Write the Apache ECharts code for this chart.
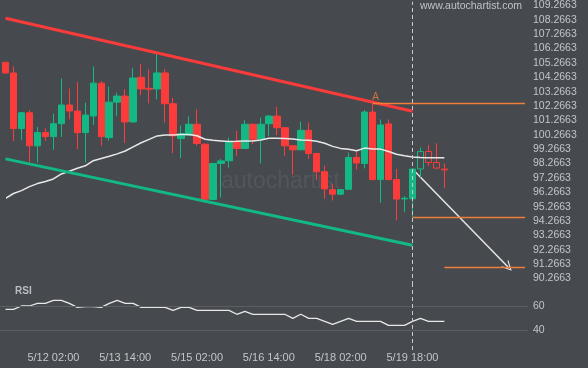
<!DOCTYPE html>
<html><head><meta charset="utf-8">
<script src="https://cdn.jsdelivr.net/npm/echarts@6/dist/echarts.min.js"></script>
<style>html,body{margin:0;padding:0;background:#46494e}#c{width:588px;height:368px}</style>
</head><body><div id="c"></div>
<script>
// ---- data ----
const opens  = [105.31,104.57,100.70,101.80,99.50,100.42,100.14,101.04,102.34,101.92,100.42,101.57,103.86,100.07,102.54,102.96,101.16,104.27,103.50,103.46,104.57,102.43,100.00,100.24,101.00,99.61,95.76,98.27,98.46,99.73,99.31,101.00,99.96,101.04,101.57,100.76,99.50,99.22,100.58,98.97,97.70,96.45,96.13,96.47,98.69,98.27,101.85,97.15,101.02,97.15,95.80,95.81,97.89,99.10,98.34,97.88];
const closes = [104.57,100.70,101.80,99.50,100.42,100.14,101.04,102.34,101.92,100.42,101.64,103.86,100.14,102.54,102.96,101.16,104.22,103.46,103.44,104.57,102.43,100.19,100.35,101.00,99.66,95.78,98.27,98.45,99.73,99.31,101.00,99.96,101.00,101.57,100.76,99.50,99.22,100.58,98.97,97.70,96.50,96.13,96.45,98.69,98.30,101.85,97.15,100.95,97.15,95.79,95.85,97.88,99.10,98.34,97.95,97.82];
const lows   = [104.50,99.84,99.89,98.34,98.34,99.84,99.22,100.12,101.34,99.27,98.34,100.95,99.50,99.87,101.57,99.70,101.11,103.02,102.45,102.73,101.11,98.99,98.65,100.20,99.50,95.62,95.72,95.90,97.99,98.81,99.31,99.62,98.27,100.19,100.24,98.81,97.49,99.20,98.58,97.12,95.81,95.69,96.10,96.45,97.84,97.93,97.10,95.53,97.10,94.30,94.88,94.52,97.30,98.11,97.90,96.57];
const highs  = [105.35,105.03,101.85,101.97,100.81,100.72,101.73,104.18,103.49,103.95,102.50,105.03,104.00,103.62,103.19,103.44,104.92,105.20,104.81,105.95,104.85,102.84,100.90,101.55,102.04,99.66,98.30,98.58,100.07,100.54,101.28,101.05,101.46,101.64,102.20,100.80,99.55,101.18,101.11,99.00,98.11,96.85,96.50,99.03,99.15,101.99,102.45,101.34,101.34,97.89,96.00,97.90,99.38,99.57,99.68,98.27];
const maValues = [95.83,96.18,96.38,96.66,96.87,97.01,97.19,97.54,97.73,97.94,98.11,98.46,98.62,98.77,98.94,99.14,99.43,99.71,99.95,100.19,100.25,100.26,100.29,100.29,100.20,99.96,99.88,99.84,99.80,99.81,99.84,99.84,99.91,100.03,100.02,100.01,99.97,99.91,99.88,99.81,99.68,99.46,99.32,99.26,99.15,99.34,99.27,99.27,99.10,98.91,98.81,98.72,98.68,98.67,98.67,98.67];
const rsiValues = [57.2,57.2,60,60,62.2,62.2,64.7,64.7,62.2,58.9,59.4,59.4,58.9,62.2,64.7,62.2,62.2,58.9,58.9,58.9,58.9,56.4,58.9,58.9,56.4,56.4,56.4,56.4,56.4,53.1,55.6,53.1,53.1,53.1,53.1,53.1,49.7,53.1,49.7,49.7,47.2,44.7,47.2,49.7,47.2,47.2,47.2,47.2,43.9,43.9,43.9,47.2,49.7,47.2,47.2,47.2];
const rsiLevels = [40, 60];
const resistanceLine = [[0, 108.38], [51, 101.90]];
const supportLine = [[0, 98.59], [51, 92.58]];
const patternLevel = [[46, 102.45], [65.1, 102.45]];
const lowLevel = [[51, 94.515], [65.1, 94.515]];
const targetLevel = [[55, 91.03], [65.1, 91.03]];
const forecastArrow = [[51, 97.88], [63, 91.05]];
const pointLabel = 'A';
const currentIndex = 51;
const forecastStart = 52;
const priceTicks = [90.2663,91.2663,92.2663,93.2663,94.2663,95.2663,96.2663,97.2663,98.2663,99.2663,100.2663,101.2663,102.2663,103.2663,104.2663,105.2663,106.2663,107.2663,108.2663,109.2663];
const timeTickIdx = [6, 15, 24, 33, 42, 51];
const timeLabels = ['5/12 02:00','5/13 14:00','5/15 02:00','5/16 14:00','5/18 02:00','5/19 18:00'];

// ---- chart ----
const BG = '#46494e', UP = '#13b884', DOWN = '#fc3b3b', ORANGE = '#ee7f3a', TXT = '#c2c5c9';
const FONT = 'Liberation Sans, Arial, sans-serif';
const candleData = opens.map((o, i) => {
  const item = { value: [i, o, closes[i], lows[i], highs[i]] };
  if (i >= forecastStart) item.itemStyle = { color: BG, color0: BG };
  return item;
});
const pxStep = 7.98, firstCenter = 5.5, plotRight = 528;
const xMax = (plotRight - firstCenter) / pxStep;

const chart = echarts.init(document.getElementById('c'));
chart.setOption({
  animation: false,
  backgroundColor: BG,
  textStyle: { fontFamily: FONT },
  title: { text: 'RSI', left: 15, top: 286, padding: 0,
    textStyle: { fontSize: 10, fontWeight: 'bold', color: '#b9bcc0', fontFamily: FONT } },
  graphic: [
    { type: 'text', left: 420, top: 1, style: { text: 'www.autochartist.com', fill: '#c0c3c7', font: '10.5px ' + FONT } },
    { type: 'text', left: 221, top: 170, silent: true, style: { text: 'autochartist', fill: 'rgba(255,255,255,0.07)', font: '300 23px ' + FONT } }
  ],
  grid: [
    { left: 7, right: 588 - plotRight, top: 0, height: 285 },
    { left: 0, right: 588 - plotRight, top: 285, height: 65 }
  ],
  xAxis: [
    { type: 'value', gridIndex: 0, min: (7 - firstCenter) / pxStep, max: xMax, show: false },
    { type: 'value', gridIndex: 1, min: -firstCenter / pxStep, max: xMax,
      axisLine: { show: false }, axisTick: { show: false }, splitLine: { show: false },
      axisLabel: { customValues: timeTickIdx, margin: 2, fontSize: 11, color: TXT, fontFamily: FONT,
        formatter: v => { const j = timeTickIdx.indexOf(Math.round(v)); return j >= 0 ? timeLabels[j] : ''; } } }
  ],
  yAxis: [
    { type: 'value', gridIndex: 0, position: 'right', min: 89.81, max: 109.533, scale: true,
      axisLine: { show: false }, axisTick: { show: false }, splitLine: { show: false },
      axisLabel: { customValues: priceTicks, margin: 5, fontSize: 10.5, color: TXT, fontFamily: FONT,
        formatter: v => v.toFixed(4) } },
    { type: 'value', gridIndex: 1, position: 'right', min: 23.33, max: 77.5,
      axisLine: { show: false }, axisTick: { show: false }, splitLine: { show: false },
      axisLabel: { customValues: rsiLevels, margin: 5, fontSize: 10.5, color: TXT, fontFamily: FONT } }
  ],
  series: [
    { type: 'candlestick', xAxisIndex: 0, yAxisIndex: 0, data: candleData, encode: { x: 0, y: [1, 2, 3, 4] },
      barWidth: 7, clip: true,
      itemStyle: { color: UP, color0: DOWN, borderColor: UP, borderColor0: DOWN, borderWidth: 1 },
      markLine: { silent: true, symbol: 'none', label: { show: false },
        lineStyle: { color: '#c8c8c8', type: [4, 3], width: 1 }, data: [{ xAxis: currentIndex }] } },
    { type: 'line', xAxisIndex: 0, yAxisIndex: 0, data: maValues.map((v, i) => [i, v]), symbol: 'none',
      lineStyle: { color: '#e8e8e8', width: 1.5 }, clip: true },
    { type: 'line', xAxisIndex: 0, yAxisIndex: 0, data: resistanceLine, symbol: 'none',
      lineStyle: { color: '#f93b3b', width: 3 }, clip: true },
    { type: 'line', xAxisIndex: 0, yAxisIndex: 0, data: supportLine, symbol: 'none',
      lineStyle: { color: '#12b886', width: 3 }, clip: true },
    { type: 'line', xAxisIndex: 0, yAxisIndex: 0, data: patternLevel, symbol: 'none', lineStyle: { color: ORANGE, width: 1.5 } },
    { type: 'line', xAxisIndex: 0, yAxisIndex: 0, data: lowLevel, symbol: 'none', lineStyle: { color: ORANGE, width: 1.5 } },
    { type: 'line', xAxisIndex: 0, yAxisIndex: 0, data: targetLevel, symbol: 'none', lineStyle: { color: ORANGE, width: 1.5 } },
    { type: 'lines', coordinateSystem: 'cartesian2d', xAxisIndex: 0, yAxisIndex: 0,
      symbol: ['none', 'path://M5,0 L10,10 L8.8,10 L5,2.4 L1.2,10 L0,10 Z'], symbolSize: 10,
      lineStyle: { color: '#e6e6e6', width: 1.5, opacity: 1 },
      data: [{ coords: forecastArrow }] },
    { type: 'scatter', xAxisIndex: 0, yAxisIndex: 0, data: [patternLevel[0]], symbolSize: 1,
      itemStyle: { color: 'rgba(0,0,0,0)' },
      label: { show: true, formatter: pointLabel, position: 'top', distance: 1, offset: [3, 0],
        color: ORANGE, fontSize: 10, fontFamily: FONT } },
    { type: 'line', xAxisIndex: 1, yAxisIndex: 1, data: rsiValues.map((v, i) => [i, v]), symbol: 'none',
      lineStyle: { color: '#e8e8e8', width: 1.3 }, clip: true,
      markLine: { silent: true, symbol: 'none', label: { show: false },
        data: rsiLevels.map(l => ({ yAxis: l, lineStyle: { color: '#5b5e63', type: 'solid', width: 1 } }))
          .concat([{ xAxis: currentIndex, lineStyle: { color: '#c8c8c8', type: [4, 3], width: 1 } }]) } }
  ]
});
</script></body></html>
